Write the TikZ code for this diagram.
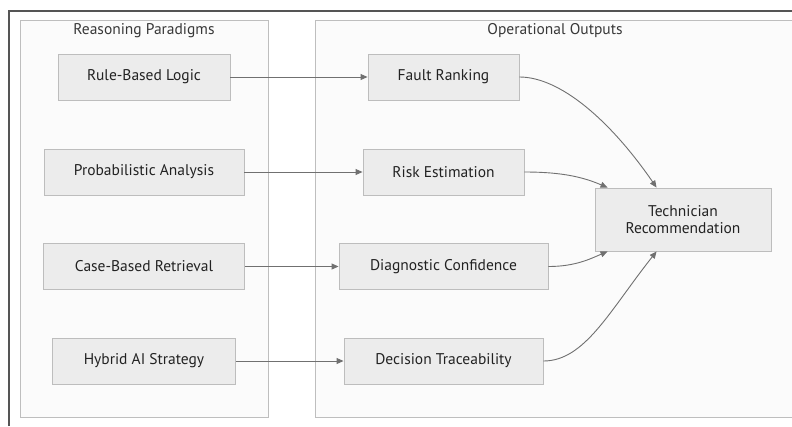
\documentclass[tikz,border=0pt]{standalone}
\usepackage{fontspec}
\setmainfont{PT Sans}
\usetikzlibrary{arrows.meta,calc}
\definecolor{nodefill}{HTML}{ECECEC}
\definecolor{nodeline}{HTML}{BDBDBD}
\definecolor{clusterfill}{HTML}{FBFBFB}
\definecolor{clusterline}{HTML}{BEBEBE}
\definecolor{txt}{HTML}{222222}
\definecolor{edge}{HTML}{707070}
\definecolor{frame}{HTML}{555555}
\tikzset{
  box/.style={draw=nodeline, fill=nodefill, line width=0.9pt, text=txt,
    font=\fontsize{15.5}{16.5}\selectfont, inner sep=0pt, align=center},
  cluster/.style={draw=clusterline, fill=clusterfill, line width=1pt},
  ctitle/.style={text=txt!90, font=\fontsize{15.5}{17}\selectfont},
  flow/.style={draw=edge, line width=0.9pt, -{Triangle[length=7pt,width=6pt]}},
}
\begin{document}
\begin{tikzpicture}[x=1pt,y=-1pt]
  \useasboundingbox (0,0) rectangle (792,426);
  \clip (0,0) rectangle (792,426);
  \fill[white] (0,0) rectangle (792,426);
  % outer frame
  \draw[frame, line width=1.3pt] (9,426) -- (9,11) -- (800,11);
  % clusters
  \draw[cluster] (20,20) rectangle (268,417);
  \draw[cluster] (315,20) rectangle (810,417);
  \node[ctitle] (t1) at (144,31) {Reasoning Paradigms};
  \node[ctitle] (t2) at (555,31) {Operational Outputs};
  % paradigms
  \node[box, minimum width=172pt, minimum height=46pt] (rule) at (144,77) {Rule-Based Logic};
  \node[box, minimum width=200pt, minimum height=46pt] (prob) at (144,172) {Probabilistic Analysis};
  \node[box, minimum width=201pt, minimum height=46pt] (case) at (144,266.5) {Case-Based Retrieval};
  \node[box, minimum width=183pt, minimum height=46pt] (hyb) at (144,361) {Hybrid AI Strategy};
  % outputs
  \node[box, minimum width=151pt, minimum height=46pt] (fault) at (443.5,77) {Fault Ranking};
  \node[box, minimum width=161pt, minimum height=46pt] (risk) at (443.5,172) {Risk Estimation};
  \node[box, minimum width=209pt, minimum height=46pt] (diag) at (443.5,266.5) {Diagnostic Confidence};
  \node[box, minimum width=199pt, minimum height=46pt] (dec) at (443.5,361) {Decision Traceability};
  \node[box, minimum width=176pt, minimum height=63pt] (tech) at (683,219.5) {Technician\\Recommendation};
  % straight links
  \draw[flow] (rule.east) -- (fault.west);
  \draw[flow] (prob.east) -- (risk.west);
  \draw[flow] (case.east) -- (diag.west);
  \draw[flow] (hyb.east) -- (dec.west);
  % converging links
  \draw[flow] (fault.east) .. controls (560,77) and (610,120) .. ($(tech.north west)+(62,0)$);
  \draw[flow] (risk.east) .. controls (565,172) and (585,178) .. ($(tech.north west)+(13,0)$);
  \draw[flow] (diag.east) .. controls (575,266.5) and (590,259) .. ($(tech.south west)+(13,0)$);
  \draw[flow] (dec.east) .. controls (585,361) and (610,310) .. ($(tech.south west)+(62,0)$);
\end{tikzpicture}
\end{document}
